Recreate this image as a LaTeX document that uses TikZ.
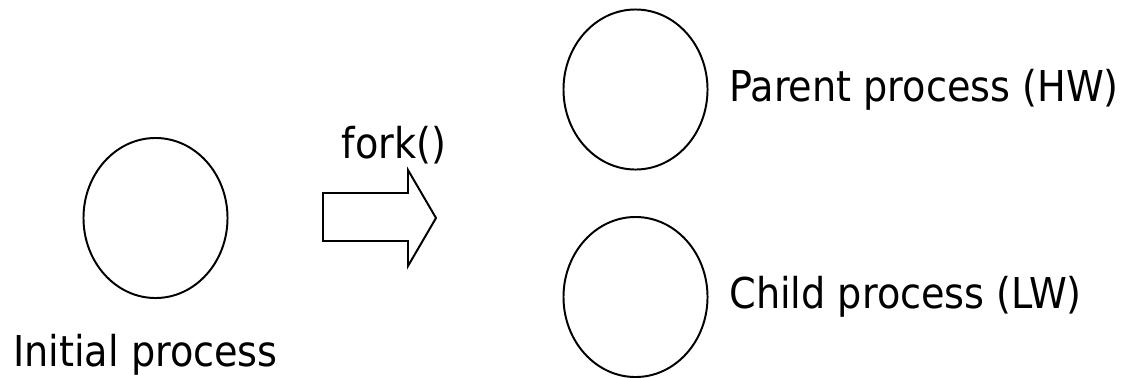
\documentclass[tikz,border=0pt]{standalone}
\usepackage{fontspec}
\setmainfont{DejaVu Sans Condensed}
\usetikzlibrary{positioning,shapes.geometric}
\begin{document}
\begin{tikzpicture}[x=0.025cm, y=-0.025cm, line width=1.4pt,
		proc/.style={draw, ellipse, minimum width=3.6cm, minimum height=4cm, inner sep=0pt},
		lbl/.style={inner sep=0pt, font=\fontsize{30.2}{34}\selectfont}]
	\useasboundingbox (0,0) rectangle (1122,377);
	\node[proc] (init) at (155.5,218) {};
	\node[proc] (parent) at (635.5,89.5) {};
	\node[proc] (child) at (635.5,297) {};
	\node[lbl, below=0.85cm of init, xshift=-0.25cm] (initlbl) {Initial process};
	\node[lbl, right=0.5cm of parent] (parentlbl) {Parent process (HW)};
	\node[lbl, right=0.5cm of child] (childlbl) {Child process (LW)};
	% block arrow for the fork
	\draw (323,193) -- (408,193) -- (408,170) -- (436,218) -- (408,266) -- (408,241) -- (323,241) -- cycle;
	\node[lbl, anchor=base] (fork) at (394,158) {fork()};
\end{tikzpicture}
\end{document}
